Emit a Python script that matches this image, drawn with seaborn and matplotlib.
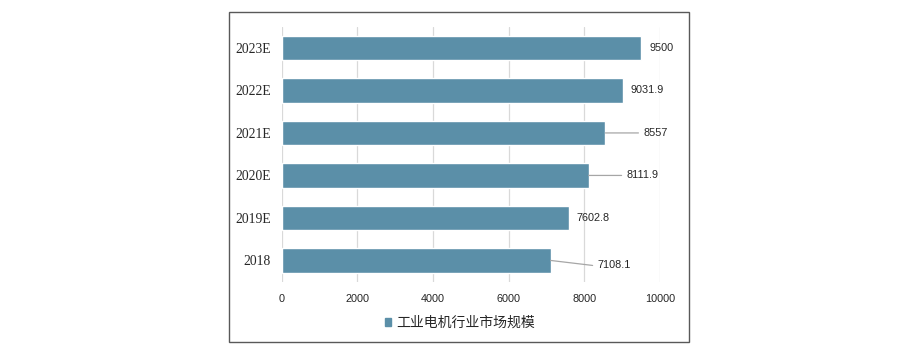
import matplotlib
matplotlib.use("Agg")
import matplotlib.pyplot as plt
import seaborn as sns
import pandas as pd
from matplotlib.patches import Rectangle, Patch

years = ["2018", "2019E", "2020E", "2021E", "2022E", "2023E"]
values = [7108.1, 7602.8, 8111.9, 8557, 9031.9, 9500]
series_name = "工业电机行业市场规模"
xticks = [0, 2000, 4000, 6000, 8000, 10000]

sns.set_theme(style="white")
plt.rcParams['font.family'] = ['Liberation Sans', 'DejaVu Sans']

df = pd.DataFrame({"year": years, "value": values})
color = "#5b8fa8"

fig = plt.figure(figsize=(9.2, 3.53), dpi=100)
ax = fig.add_axes([0.3062, 0.202, 0.4112, 0.7224])

sns.barplot(data=df, y="year", x="value", order=years[::-1], orient="h",
            color=color, saturation=1, width=0.57, ax=ax)

ax.set_xlim(0, 10000)
ax.set_xticks(xticks)
ax.set_xticklabels([str(t) for t in xticks], fontsize=7.8, color="#262626")
ax.set_xlabel("")
ax.set_ylabel("")
for lbl in ax.get_yticklabels():
    lbl.set_fontfamily(['Liberation Serif', 'DejaVu Serif'])
    lbl.set_fontsize(9.8)
    lbl.set_color("#262626")
ax.tick_params(axis="x", length=0, pad=9)
ax.tick_params(axis="y", length=0, pad=8)
ax.grid(axis="x", color="#d9d9d9", linewidth=0.9)
ax.set_axisbelow(True)
for s in ax.spines.values():
    s.set_visible(False)

# labels: (dx_text_px, dy_text_px, line_end_px or None)
label_style = {
    "2023E": (8, 0, None),
    "2022E": (7, 0, None),
    "2021E": (38, 0, 33),
    "2020E": (38, 0, 33),
    "2019E": (7, 0, None),
    "2018": (47, -5, 42),
}
px2pt = 72 / 100
order = years[::-1]
for i, yr in enumerate(order):
    v = values[years.index(yr)]
    dx, dy, lend = label_style[yr]
    txt = f"{v:g}"
    if lend is not None:
        ax.annotate("", xy=(v, i), xytext=(lend * px2pt, dy * px2pt),
                    textcoords="offset points",
                    arrowprops=dict(arrowstyle="-", color="#a6a6a6", lw=0.9,
                                    shrinkA=0, shrinkB=0))
    ax.annotate(txt, xy=(v, i), xytext=(dx * px2pt, dy * px2pt),
                textcoords="offset points", ha="left", va="center",
                fontsize=7.8, color="#262626")

leg = fig.legend(handles=[Patch(facecolor=color, edgecolor=color)], labels=[series_name],
                 loc="center", bbox_to_anchor=(0.500, 0.085), frameon=False,
                 handlelength=0.45, handleheight=0.45, handletextpad=0.35,
                 prop={"family": ["Noto Sans CJK SC", "DejaVu Sans"], "size": 10})
for t in leg.get_texts():
    t.set_color("#262626")

frame = Rectangle((0.2489, 0.0312), 0.5005, 0.9348, transform=fig.transFigure,
                  fill=False, edgecolor="#595959", linewidth=1.0)
fig.patches.append(frame)

fig.savefig("out.png", dpi=100)
